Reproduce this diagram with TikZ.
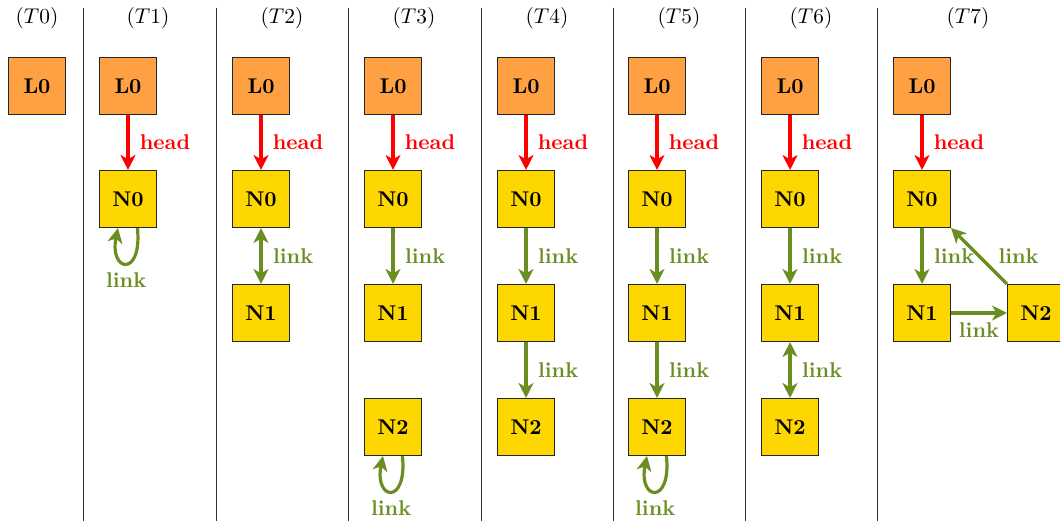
\documentclass[tikz,border=0pt]{standalone}
\usetikzlibrary{arrows.meta}
\definecolor{lockfill}{RGB}{255,161,66}
\definecolor{nodefill}{RGB}{255,215,0}
\definecolor{linkgreen}{RGB}{107,142,35}
\begin{document}
\begin{tikzpicture}[x=0.0165cm,y=-0.0165cm,
  lockbox/.style={draw=black!85, line width=0.5pt, fill=lockfill, minimum size=0.94cm, inner sep=0pt, font=\bfseries},
  qbox/.style={draw=black!85, line width=0.5pt, fill=nodefill, minimum size=0.94cm, inner sep=0pt, font=\bfseries},
  headarrow/.style={draw=red, line width=1.5pt, -{Stealth[length=7pt,width=7pt,inset=2pt]}},
  linkarrow/.style={draw=linkgreen, line width=1.5pt, -{Stealth[length=7pt,width=7pt,inset=2pt]}},
  linkboth/.style={draw=linkgreen, line width=1.5pt, {Stealth[length=7pt,width=7pt,inset=2pt]}-{Stealth[length=7pt,width=7pt,inset=2pt]}},
  headlabel/.style={font=\bfseries, text=red, inner sep=0pt, anchor=west, xshift=4.8pt},
  linklabel/.style={font=\bfseries, text=linkgreen, inner sep=0pt, anchor=west, xshift=4.9pt},
  looplabel/.style={font=\bfseries, text=linkgreen, inner sep=0pt, anchor=north, yshift=-3.8pt},
  stamp/.style={inner sep=0pt},
  divider/.style={draw=black!80, line width=0.4pt}
]
\useasboundingbox (0,0) rectangle (1060,523);

% column dividers
\foreach \xx in {83,216,348,481,613,745,877}
  \draw[divider] (\xx,8) -- (\xx,521);

% time stamps
\node[stamp] (s0) at (37,18)  {$(T0)$};
\node[stamp] (s1) at (148,18) {$(T1)$};
\node[stamp] (s2) at (282,18) {$(T2)$};
\node[stamp] (s3) at (414,18) {$(T3)$};
\node[stamp] (s4) at (547,18) {$(T4)$};
\node[stamp] (s5) at (679,18) {$(T5)$};
\node[stamp] (s6) at (811,18) {$(T6)$};
\node[stamp] (s7) at (968,18) {$(T7)$};

% T0
\node[lockbox] (l0) at (37,86) {L0};

% T1
\node[lockbox] (l1) at (128,86) {L0};
\node[qbox] (a1) at (128,199) {N0};
\draw[headarrow] (l1) -- node[headlabel] {head} (a1);
\draw[linkarrow] (a1.-72) .. controls +(5,50) and +(-9,44) .. (a1.-109)
  node[looplabel, pos=0.5] {link};

% T2
\node[lockbox] (l2) at (261,86) {L0};
\node[qbox] (a2) at (261,199) {N0};
\node[qbox] (b2) at (261,313) {N1};
\draw[headarrow] (l2) -- node[headlabel] {head} (a2);
\draw[linkboth] (a2) -- node[linklabel] {link} (b2);

% T3
\node[lockbox] (l3) at (393,86) {L0};
\node[qbox] (a3) at (393,199) {N0};
\node[qbox] (b3) at (393,313) {N1};
\node[qbox] (c3) at (393,427) {N2};
\draw[headarrow] (l3) -- node[headlabel] {head} (a3);
\draw[linkarrow] (a3) -- node[linklabel] {link} (b3);
\draw[linkarrow] (c3.-72) .. controls +(5,50) and +(-9,44) .. (c3.-109)
  node[looplabel, pos=0.5] {link};

% T4
\node[lockbox] (l4) at (526,86) {L0};
\node[qbox] (a4) at (526,199) {N0};
\node[qbox] (b4) at (526,313) {N1};
\node[qbox] (c4) at (526,427) {N2};
\draw[headarrow] (l4) -- node[headlabel] {head} (a4);
\draw[linkarrow] (a4) -- node[linklabel] {link} (b4);
\draw[linkarrow] (b4) -- node[linklabel] {link} (c4);

% T5
\node[lockbox] (l5) at (657,86) {L0};
\node[qbox] (a5) at (657,199) {N0};
\node[qbox] (b5) at (657,313) {N1};
\node[qbox] (c5) at (657,427) {N2};
\draw[headarrow] (l5) -- node[headlabel] {head} (a5);
\draw[linkarrow] (a5) -- node[linklabel] {link} (b5);
\draw[linkarrow] (b5) -- node[linklabel] {link} (c5);
\draw[linkarrow] (c5.-72) .. controls +(5,50) and +(-9,44) .. (c5.-109)
  node[looplabel, pos=0.5] {link};

% T6
\node[lockbox] (l6) at (790,86) {L0};
\node[qbox] (a6) at (790,199) {N0};
\node[qbox] (b6) at (790,313) {N1};
\node[qbox] (c6) at (790,427) {N2};
\draw[headarrow] (l6) -- node[headlabel] {head} (a6);
\draw[linkarrow] (a6) -- node[linklabel] {link} (b6);
\draw[linkboth] (b6) -- node[linklabel] {link} (c6);

% T7
\node[lockbox] (l7) at (922,86) {L0};
\node[qbox] (a7) at (922,199) {N0};
\node[qbox] (b7) at (922,313) {N1};
\node[qbox] (c7) at (1036,313) {N2};
\draw[headarrow] (l7) -- node[headlabel] {head} (a7);
\draw[linkarrow] (a7) -- node[linklabel] {link} (b7);
\draw[linkarrow] (b7) -- node[looplabel, midway] {link} (c7);
\draw[linkarrow] (c7) -- node[linklabel, midway, xshift=3.5pt] {link} (a7);

\end{tikzpicture}
\end{document}
